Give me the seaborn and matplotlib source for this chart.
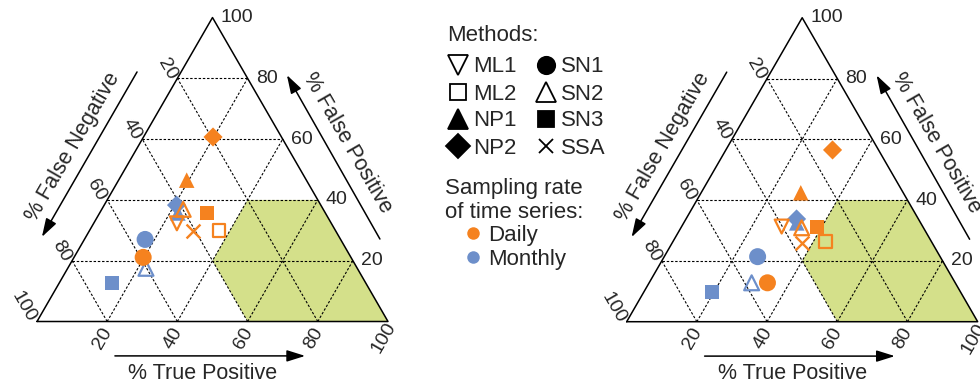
import numpy as np
import pandas as pd
import matplotlib.pyplot as plt
from matplotlib.lines import Line2D
import seaborn as sns

sns.set_style("white")
plt.rcParams['font.family'] = ['Liberation Sans', 'DejaVu Sans']

nan = np.nan
methods = ['ML1', 'ML2', 'NP1', 'NP2', 'SN1', 'SN2', 'SN3', 'SSA']
markers = ['v', 's', '^', 'D', 'o', '^', 's', 'x']
sizes = [100, 85, 125, 95, 150, 115, 100, 100]
hollow = ['ML1', 'ML2', 'SN2']
rates = ['Monthly', 'Daily']
colors = {'Daily': '#F5821F', 'Monthly': '#6D8FCA'}

# % true positive / % false positive (false negative is the rest)
left_daily_tp = [23.7, 36.9, 19.4, 19.8, 19.7, 23.2, 30.6, 29.6]
left_daily_fp = [32.3, 29.9, 46.5, 60.7, 21.1, 36.9, 35.8, 29.9]
left_monthly_tp = [nan, nan, 22.3, 20.6, 17.3, 22.3, 14.9, nan]
left_monthly_fp = [nan, nan, 35.7, 38.3, 27.0, 17.5, 12.8, nan]

right_daily_tp = [28.5, 43.5, 28.4, 30.4, 33.7, 34.4, 38.5, 36.9]
right_daily_fp = [31.3, 26.3, 42.4, 56.5, 12.8, 30.9, 31.3, 26.0]
right_monthly_tp = [nan, nan, 32.2, 31.5, 26.6, 29.2, 19.3, nan]
right_monthly_fp = [nan, nan, 32.5, 33.8, 21.4, 12.8, 9.9, nan]

ticks = [20, 40, 60, 80, 100]
H = np.sqrt(3) / 2


def cart(tp, fp):
    tp = np.asarray(tp, float)
    fp = np.asarray(fp, float)
    return tp + fp / 2, fp * H


def make_df(d_tp, d_fp, m_tp, m_fp):
    df = pd.DataFrame({
        'method': methods * 2,
        'rate': ['Daily'] * 8 + ['Monthly'] * 8,
        'tp': d_tp + m_tp,
        'fp': d_fp + m_fp,
    }).dropna()
    df['x'], df['y'] = cart(df['tp'], df['fp'])
    return df


def draw_panel(ax, df):
    # green "good" region: TP >= 40, FP <= 40, FN <= 40
    gx, gy = cart([60, 100, 60, 40, 40], [0, 0, 40, 40, 20])
    ax.fill(gx, gy, color='#D4E08A', lw=0, zorder=0)

    for v in [20, 40, 60, 80]:
        for tp, fp in [([0, 100 - v], [v, v]),
                       ([v, v], [0, 100 - v]),
                       ([100 - v, 0], [0, 100 - v])]:
            x, y = cart(tp, fp)
            ax.plot(x, y, color='black', lw=0.8, ls=(0, (2.2, 1.6)), zorder=1)

    x, y = cart([0, 100, 0, 0], [0, 0, 100, 0])
    ax.plot(x, y, color='black', lw=1.1, zorder=2)

    for rate in rates:
        for m, mk, s in zip(methods, markers, sizes):
            sub = df[(df['rate'] == rate) & (df['method'] == m)]
            if sub.empty:
                continue
            kw = dict(color=colors[rate], marker=mk, s=s, zorder=3, legend=False, ax=ax)
            if m in hollow:
                kw.update(facecolor='none', edgecolor=colors[rate], linewidth=1.6)
            elif mk == 'x':
                kw.update(linewidth=1.7)
            else:
                kw.update(edgecolor='none', linewidth=0)
            sns.scatterplot(data=sub, x='x', y='y', **kw)

    for v in ticks:
        # true positive along the bottom
        x, y = cart(v, 0)
        ax.text(x - 1.25, y - 4.7, str(v), rotation=60, ha='center', va='center', fontsize=14)
        # false negative on the left side
        x, y = cart(0, 100 - v)
        ax.text(x - 1.45, y + 0.05, str(v), rotation=-60, rotation_mode='anchor',
                ha='right', va='center', fontsize=14)
        # false positive on the right side
        x, y = cart(100 - v, v)
        ax.text(x + 2.3, y, str(v), ha='left', va='center', fontsize=14)

    arrow = dict(arrowstyle='-|>,head_length=0.7,head_width=0.22', color='black',
                 lw=1.1, mutation_scale=16, shrinkA=0, shrinkB=0)
    ax.annotate('', xy=(76.4, -9.8), xytext=(22.2, -9.8), arrowprops=arrow)
    ax.text(47.3, -14.7, '% True Positive', ha='center', va='center', fontsize=15.5)
    ax.annotate('', xy=(1.4, 24.1), xytext=(28.5, 71.1), arrowprops=arrow)
    ax.text(10.3, 49.7, '% False Negative', rotation=60, ha='center', va='center', fontsize=15.5)
    ax.annotate('', xy=(71.2, 70.2), xytext=(97.7, 23.5), arrowprops=arrow)
    ax.text(88.3, 50.9, '% False Positive', rotation=-60, ha='center', va='center', fontsize=15.5)

    ax.set_xlabel('')
    ax.set_ylabel('')
    ax.axis('off')


fig = plt.figure(figsize=(9.8, 3.89), dpi=100)
ax1 = fig.add_axes([0, 0, 410 / 980, 1])
ax2 = fig.add_axes([580 / 980, 0, 400 / 980, 1])

draw_panel(ax1, make_df(left_daily_tp, left_daily_fp, left_monthly_tp, left_monthly_fp))
draw_panel(ax2, make_df(right_daily_tp, right_daily_fp, right_monthly_tp, right_monthly_fp))
ax1.set_xlim(-10.54, 106.27)
ax1.set_ylim(-19.23, 91.60)
ax2.set_xlim(-13.30, 100.66)
ax2.set_ylim(-19.17, 91.65)

# legend: methods
leg_sizes = [15, 11.5, 15, 12, 12.5, 15, 11.5, 10]
handles = []
for m, mk, ms in zip(methods, markers, leg_sizes):
    handles.append(Line2D([], [], ls='none', marker=mk, markersize=ms, color='black',
                          mfc='none' if m in hollow else 'black', mew=1.3))
fig.text(446.7 / 980, 1 - 40.7 / 389, 'Methods:', ha='left', va='baseline', fontsize=16)
fig.legend(handles, methods, loc='upper left', bbox_to_anchor=(446.9 / 980, 1 - 56.5 / 389),
           ncol=2, frameon=False, borderpad=0, borderaxespad=0, fontsize=16,
           handlelength=1.0, handletextpad=0.18, columnspacing=0.8, labelspacing=0.27)

# legend: sampling rate
fig.text(445 / 980, 1 - 194.3 / 389, 'Sampling rate', ha='left', va='baseline', fontsize=16)
fig.text(445 / 980, 1 - 218.3 / 389, 'of time series:', ha='left', va='baseline', fontsize=16)
rate_handles = [Line2D([], [], ls='none', marker='o', markersize=9, color=colors[r], mew=0)
                for r in ['Daily', 'Monthly']]
fig.legend(rate_handles, ['Daily', 'Monthly'], loc='upper left',
           bbox_to_anchor=(461.9 / 980, 1 - 224.5 / 389), frameon=False, borderpad=0,
           borderaxespad=0, fontsize=16, handlelength=1.0, handletextpad=0.18, labelspacing=0.15)

fig.savefig('out.png', dpi=100)
